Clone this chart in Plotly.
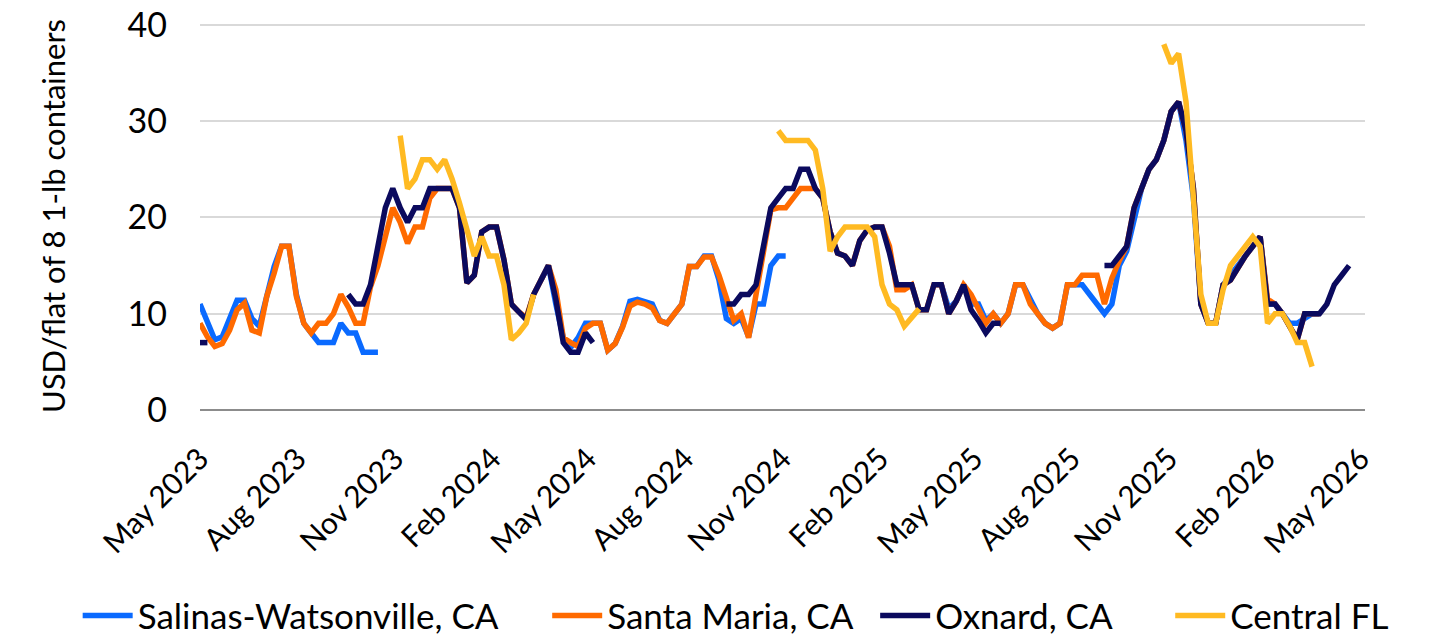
import pandas as pd
import plotly.graph_objects as go

N = None
start = pd.Timestamp("2023-05-01")
n_weeks = 156
week_dates = [start + pd.Timedelta(weeks=k) for k in range(n_weeks)]

series_names = ["Salinas-Watsonville, CA", "Santa Maria, CA", "Oxnard, CA", "Central FL"]
# trailing non-breaking spaces widen the legend entries to the reference spacing
legend_pad = [5, 2, 6, 0]

salinas = ([11, 9.3, 7.3, 7.6, 9.5, 11.4, 11.4, 9.5, 8.7, 12, 14.9, 17, 17, 12, 9, 8, 7, 7, 7, 9, 8, 8, 6, 6, 6]
           + [N] * 21
           + [13.5, 15, 11, 7.5, 6.5, 7.5, 9, 9, 9, 6.2, 6.9, 8.7, 11.3, 11.5, 11.2, 11, 9.3, 9, 10, 11,
              14.9, 14.9, 16, 16, 13.5, 9.5, 9, 9.5, 7.6, 11, 11, 15, 16, 16]
           + [N] * 20
           + [13, 10.5, 11.3, 13, 11, 11, 9.3, 10, 9, 10, 13, 13, 11.5, 10, 9, 8.5, 9, 13, 13, 13, 12, 11, 10, 11,
              15, 16.5, 20, 23, 25, 26, 28, 31, 32, 28, 22, 11, 9, 9, 13, 14, 15, 16, 17, 18, 11, 11, 10, 9, 9, 9.5, 10, 10]
           + [N] * 4)

santa_maria = ([9, 7.6, 6.6, 6.9, 8.3, 10.4, 11.1, 8.3, 8, 11.8, 14.2, 17, 17, 11.8, 9, 8, 9, 9, 10, 12, 10.7, 9, 9,
                12.8, 15, 18, 21]
               + [19.5, 17.3, 19, 19, 22, 23, 23, 23, 21, 13.2, 14, 18.5, 19, 19, 15.6, 11, 10.2, 9.6, 12, 13.5, 15,
                  12.5, 7.5, 7, 6.6, 8.5, 9, 9]
               + [6.2, 6.9, 8.6, 10.8, 11.2, 11, 10.6, 9.3, 9, 10, 11, 14.9, 14.9, 15.9, 15.9, 14, 11.5, 9.3, 10, 7.5,
                  12, 16.3, 20.8, 21, 21, 22, 23, 23, 23, 22, 18.5, 16.3, 16, 15, 17.6, 18.7, 19, 19, 17, 12.5, 12.5,
                  13, 10.4, 10.4, 13]
               + [13, 10, 11.3, 13, 12, 10.4, 9, 10, 9, 10, 13, 13, 11, 10, 9, 8.5, 9, 13, 13, 14, 14, 14, 11, 13.7,
                  15.5, 17, 21, 23, 25, 26, 28, 31, 32, 29, 23, 11, 9, 9, 13, 13.5, 14.8, 16, 17, 18, 11.5, 11, 10,
                  8.7, 7.3, 10, 10, 10]
               + [N] * 4)

oxnard = ([7, 7] + [N] * 18
          + [12, 11, 11, 13, 17, 21, 23, 21, 19.5, 21, 21, 23, 23, 23, 23, 21, 13.2, 14, 18.5, 19, 19, 15.6, 11, 10.2,
             9.4, 12, 13.5, 15, 11.5, 7, 6, 6, 8, 7]
          + [N] * 17
          + [11, 11, 12, 12, 13, 17, 21, 22, 23, 23, 25, 25, 23, 22, 18.5, 16.3, 16, 15, 17.6, 18.7, 19, 19, 16.3,
             13, 13, 13, 10.4, 10.4, 13, 13, 10, 11.3, 13, 10.4, 9.3, 8, 9, 9]
          + [N] * 13
          + [15, 15, 16, 17, 21, 23, 25, 26, 28, 31, 32, 29, 23, 11, 9, 9, 13, 13.5, 14.8, 16, 17, 18, 11, 11, 10,
             8.7, 7.3, 10, 10, 10, 11, 13, 14, 15])

central_fl = ([N] * 27
              + [28.5, 23, 24, 26, 26, 25, 26, 24, 21.5, 18.7, 16, 18, 16, 16, 13, 7.3, 8, 9, 12]
              + [N] * 32
              + [29, 28, 28, 28, 28, 27, 23, 16.5, 18, 19, 19, 19, 19, 18, 13, 11, 10.4, 8.7, 9.5, 10.5]
              + [N] * 32
              + [38, 36, 37, 32, 22, 12, 9, 9, 12.5, 15, 16, 17, 18, 17, 9, 10, 10, 8.7, 7, 7, 4.5]
              + [N] * 5)

colors = ["#0A6AFF", "#FF6A00", "#0B0A5E", "#FFBA22"]

tick_dates = ["2023-05-01", "2023-08-01", "2023-11-01", "2024-02-01", "2024-05-01", "2024-08-01",
              "2024-11-01", "2025-02-01", "2025-05-01", "2025-08-01", "2025-11-01", "2026-02-01", "2026-05-01"]
tick_labels = ["May 2023", "Aug 2023", "Nov 2023", "Feb 2024", "May 2024", "Aug 2024", "Nov 2024",
               "Feb 2025", "May 2025", "Aug 2025", "Nov 2025", "Feb 2026", "May 2026"]

y_ticks = [0, 10, 20, 30, 40]

fig = go.Figure()
for name, pad, vals, col in zip(series_names, legend_pad,
                                [salinas, santa_maria, oxnard, central_fl], colors):
    fig.add_trace(go.Scatter(x=week_dates, y=vals, name=name + "\u00a0" * pad, mode="lines",
                             line=dict(color=col, width=5.5), connectgaps=False))

FONT = "Lato"
fig.update_layout(
    width=1441, height=638,
    margin=dict(l=192, r=84, t=14, b=236, autoexpand=False),
    paper_bgcolor="white", plot_bgcolor="white",
    font=dict(family=FONT, size=32, color="black"),
    showlegend=True,
    legend=dict(orientation="h", x=-0.105, xanchor="left", y=-0.53, yanchor="middle",
                font=dict(size=35), itemwidth=50, traceorder="normal"),
    xaxis=dict(type="date", range=["2023-05-01", "2026-05-05"], tickmode="array",
               tickvals=tick_dates, ticktext=tick_labels, tickangle=-45,
               showgrid=False, zeroline=False, showline=False, ticks="",
               tickfont=dict(size=30), ticklabelstandoff=24, automargin=False),
    yaxis=dict(range=[0, 40.3], tickmode="array", tickvals=y_ticks, showgrid=True,
               gridcolor="#D9D9D9", gridwidth=2, zeroline=True, zerolinecolor="#8C8C8C",
               zerolinewidth=2, showline=False, ticks="", tickfont=dict(size=34),
               ticklabelstandoff=32, automargin=False, ticklabeloverflow="allow",
               title=dict(text="USD/flat of 8 1-lb containers", font=dict(size=31), standoff=52)),
)

fig.write_html("out.html")
